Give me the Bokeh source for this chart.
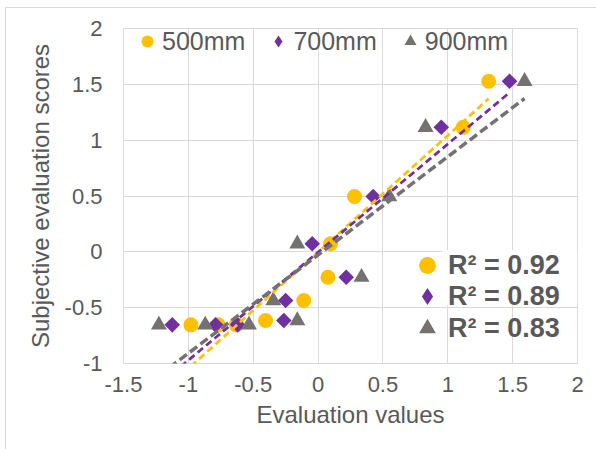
import math
from bokeh.plotting import figure
from bokeh.models import Range1d, FixedTicker, Legend, LegendItem, ColumnDataSource, BoxAnnotation
from bokeh.layouts import column
from bokeh.embed import file_html
from bokeh.resources import INLINE

# ---- data ----
series_names = ["500mm", "700mm", "900mm"]
r2_labels = ["R² = 0.92", "R² = 0.89", "R² = 0.83"]
scores = [1.527, 1.115, 0.495, 0.072, -0.227, -0.436, -0.615, -0.654, -0.654, -0.654]
eval_500 = [1.315, 1.119, 0.281, 0.096, 0.076, -0.110, -0.405, -0.980, -0.770, -0.630]
eval_700 = [1.476, 0.950, 0.425, -0.045, 0.217, -0.250, -0.264, -1.124, -0.790, -0.620]
eval_900 = [1.592, 0.829, 0.549, -0.160, 0.335, -0.345, -0.160, -1.227, -0.870, -0.533]
trend_slope = [1.044, 0.968, 0.880]
trend_intercept = [-0.002, -0.003, -0.028]
x_ticks = [-1.5, -1, -0.5, 0, 0.5, 1, 1.5, 2]
y_ticks = [-1, -0.5, 0, 0.5, 1, 1.5, 2]

colors = ["#FFC000", "#7030A0", "#767171"]
TXT = "#595959"
GRID = "#D9D9D9"
FONT = "Liberation Sans"

p = figure(width=590, height=441, x_range=Range1d(-1.5, 2), y_range=Range1d(-1, 2),
           output_backend="svg", toolbar_location=None,
           min_border_left=117, min_border_right=19, min_border_top=20, min_border_bottom=86,
           background_fill_color="white", border_fill_color="white")
p.outline_line_color = GRID
p.outline_line_width = 1

p.xaxis.ticker = FixedTicker(ticks=x_ticks)
p.yaxis.ticker = FixedTicker(ticks=y_ticks)
p.xaxis.major_label_overrides = {t: f"{t:g}" for t in x_ticks}
p.yaxis.major_label_overrides = {t: f"{t:g}" for t in y_ticks}
p.xaxis.axis_label = "Evaluation values"
p.yaxis.axis_label = "Subjective evaluation scores"
for ax in (p.xaxis[0], p.yaxis[0]):
    ax.axis_line_color = None
    ax.major_tick_line_color = None
    ax.minor_tick_line_color = None
    ax.major_tick_in = 0
    ax.major_tick_out = 0
    ax.minor_tick_in = 0
    ax.minor_tick_out = 0
    ax.major_label_text_font = FONT
    ax.major_label_text_font_size = "22px"
    ax.major_label_text_color = TXT
    ax.axis_label_text_font = FONT
    ax.axis_label_text_font_size = "24px"
    ax.axis_label_text_font_style = "normal"
    ax.axis_label_text_color = TXT
p.xaxis.major_label_standoff = 13
p.xaxis.axis_label_standoff = 6
p.yaxis.major_label_standoff = 21
p.yaxis.axis_label_standoff = 8

p.xgrid.grid_line_color = GRID
p.ygrid.grid_line_color = GRID
p.xgrid.grid_line_width = 1
p.ygrid.grid_line_width = 1

# white legend backdrop (as in the reference)
p.add_layout(BoxAnnotation(left=0.96, right=2, bottom=-0.48, top=0.015,
                           fill_color="white", fill_alpha=1, line_color=None, level="underlay"))

# scatter series
xs = [eval_500, eval_700, eval_900]
p.scatter(eval_500, scores, marker="circle", size=15, fill_color=colors[0], line_color=None)
p.scatter(eval_700, scores, marker="square", angle=math.pi / 4, size=11, fill_color=colors[1], line_color=None)
p.scatter(eval_900, scores, marker="triangle", size=16, fill_color=colors[2], line_color=None)

# linear trendlines over each series' x range
dashes = ["7 4", "7 4", "9 4"]
widths = [2.75, 2.75, 3.5]
for i in range(3):
    x0, x1 = min(xs[i]), max(xs[i])
    m, b = trend_slope[i], trend_intercept[i]
    p.line([x0, x1], [m * x0 + b, m * x1 + b], line_color=colors[i],
           line_dash=dashes[i], line_width=widths[i])

# legend-only renderers (one NaN point each, so nothing shows in the plot)
markers = ["circle", "diamond", "triangle"]
nan = float("nan")
leg_r = []
for i in range(3):
    r = p.scatter(x="x", y="y", source=ColumnDataSource(dict(x=[nan], y=[nan])), marker=markers[i],
                  fill_color=colors[i], line_color=None)
    leg_r.append(r)

top_leg = Legend(items=[LegendItem(label=series_names[i], renderers=[leg_r[i]], index=0) for i in range(3)],
                 orientation="horizontal", location=(9, 305), glyph_width=30, glyph_height=34,
                 label_standoff=0, spacing=18, padding=0, margin=0,
                 background_fill_alpha=0, border_line_alpha=0,
                 label_text_font=FONT, label_text_font_size="25px", label_text_color=TXT)
p.add_layout(top_leg)

r2_locs = [(283, 77), (283, 46), (283, 14)]
for i in range(3):
    lg = Legend(items=[LegendItem(label=r2_labels[i], renderers=[leg_r[i]], index=0)],
                location=r2_locs[i], glyph_width=42, glyph_height=42,
                label_standoff=0, padding=0, margin=0,
                background_fill_alpha=0, border_line_alpha=0,
                label_text_font=FONT, label_text_font_size="27px", label_text_font_style="bold",
                label_text_color=TXT)
    p.add_layout(lg)

layout = column(p, margin=(7, 0, 0, 5),
                styles={"border-left": "1px solid #D9D9D9", "border-top": "1px solid #D9D9D9"})

open("out.html", "w").write(file_html(layout, INLINE))
